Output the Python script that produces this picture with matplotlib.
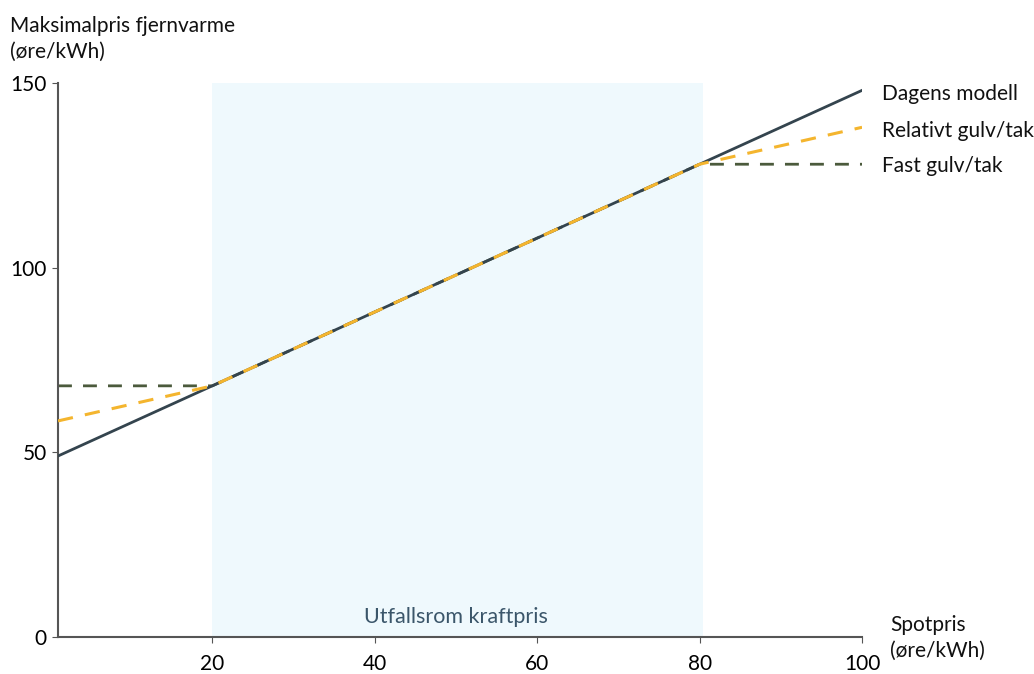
import matplotlib.pyplot as plt

# Spotpris (øre/kWh) and maksimalpris fjernvarme (øre/kWh)
spot = [1, 20, 80, 100]
dagens_modell = [49, 68, 128, 148]
relativt_gulv_tak = [58.5, 68, 128, 138]
fast_gulv_tak = [68, 68, 128, 128]

range_lo, range_hi = 20, 80.4
x_ticks = [20, 40, 60, 80, 100]
y_ticks = [0, 50, 100, 150]

plt.rcParams["font.family"] = ["Lato", "DejaVu Sans"]
FS = 15

fig = plt.figure(figsize=(10.34, 6.74), dpi=100)
ax = fig.add_axes([0.0561, 0.0549, 0.7776, 0.822])

ax.axvspan(range_lo, range_hi, color="#eff9fd", zorder=0, lw=0)

ax.plot(spot, fast_gulv_tak, color="#4b5a3c", lw=2, dashes=(5, 4), zorder=2)
ax.plot(spot, dagens_modell, color="#34444e", lw=2, zorder=3)
ax.plot(spot, relativt_gulv_tak, color="#f4b52e", lw=2.2, dashes=(5, 4), zorder=4)

ax.set_xlim(1, 100)
ax.set_ylim(0, 150)
ax.set_xticks(x_ticks)
ax.set_yticks(y_ticks)
ax.tick_params(axis="x", direction="out", length=4, pad=8, labelsize=FS, color="#555555")
ax.tick_params(axis="y", direction="out", length=4, pad=4, labelsize=FS, color="#555555")
for side in ("top", "right"):
    ax.spines[side].set_visible(False)
for side in ("left", "bottom"):
    ax.spines[side].set_color("#555555")
    ax.spines[side].set_linewidth(1.5)

label_style = dict(fontsize=FS, color="#111111", va="center", ha="left")
ax.text(102.5, dagens_modell[-1] - 1, "Dagens modell", **label_style)
ax.text(102.5, relativt_gulv_tak[-1] - 1, "Relativt gulv/tak", **label_style)
ax.text(102.5, fast_gulv_tak[-1] - 0.5, "Fast gulv/tak", **label_style)

ax.text(50, 5.5, "Utfallsrom kraftpris", ha="center", va="center",
        fontsize=15.5, color="#3b566a")

fig.text(0.0097, 0.942, "Maksimalpris fjernvarme\n(øre/kWh)", ha="left", va="center",
         fontsize=FS, color="#111111", linespacing=1.35)
fig.text(0.861, 0.054, "Spotpris\n(øre/kWh)", ha="left", va="center",
         fontsize=FS, color="#111111", linespacing=1.35)

fig.savefig("out.png", dpi=100)
